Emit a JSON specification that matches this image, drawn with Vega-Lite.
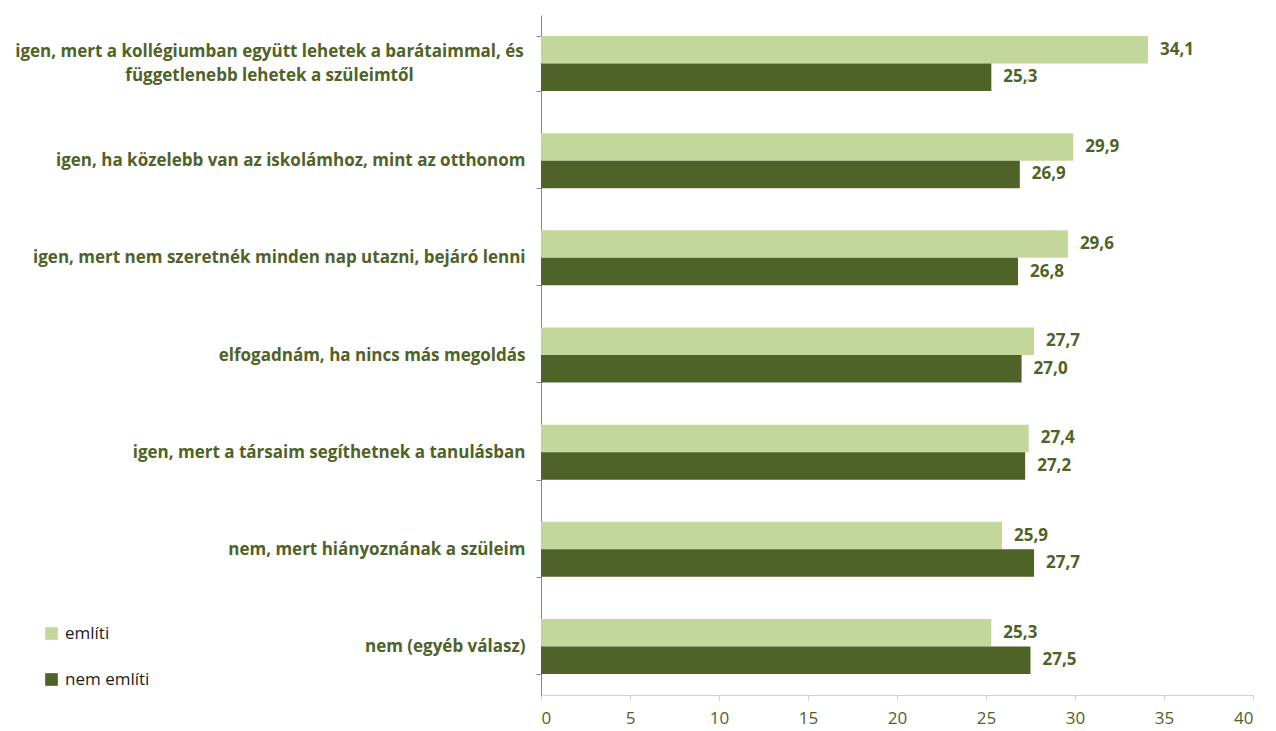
{
  "$schema": "https://vega.github.io/schema/vega-lite/v6.json",
  "width": 712,
  "height": 680,
  "autosize": {"type": "none"},
  "padding": {"left": 541, "top": 15, "right": 23, "bottom": 36},
  "background": "white",
  "config": {
    "view": {"stroke": null},
    "font": "Open Sans",
    "locale": {"number": {"decimal": ",", "thousands": " ", "grouping": [3], "currency": ["", ""]}}
  },
  "data": {
    "values": [
      {"kategoria": "igen, mert a kollégiumban együtt lehetek a barátaimmal, és|függetlenebb lehetek a szüleimtől", "csoport": "említi", "ertek": 34.1},
      {"kategoria": "igen, mert a kollégiumban együtt lehetek a barátaimmal, és|függetlenebb lehetek a szüleimtől", "csoport": "nem említi", "ertek": 25.3},
      {"kategoria": "igen, ha közelebb van az iskolámhoz, mint az otthonom", "csoport": "említi", "ertek": 29.9},
      {"kategoria": "igen, ha közelebb van az iskolámhoz, mint az otthonom", "csoport": "nem említi", "ertek": 26.9},
      {"kategoria": "igen, mert nem szeretnék minden nap utazni, bejáró lenni", "csoport": "említi", "ertek": 29.6},
      {"kategoria": "igen, mert nem szeretnék minden nap utazni, bejáró lenni", "csoport": "nem említi", "ertek": 26.8},
      {"kategoria": "elfogadnám, ha nincs más megoldás", "csoport": "említi", "ertek": 27.7},
      {"kategoria": "elfogadnám, ha nincs más megoldás", "csoport": "nem említi", "ertek": 27.0},
      {"kategoria": "igen, mert a társaim segíthetnek a tanulásban", "csoport": "említi", "ertek": 27.4},
      {"kategoria": "igen, mert a társaim segíthetnek a tanulásban", "csoport": "nem említi", "ertek": 27.2},
      {"kategoria": "nem, mert hiányoznának a szüleim", "csoport": "említi", "ertek": 25.9},
      {"kategoria": "nem, mert hiányoznának a szüleim", "csoport": "nem említi", "ertek": 27.7},
      {"kategoria": "nem (egyéb válasz)", "csoport": "említi", "ertek": 25.3},
      {"kategoria": "nem (egyéb válasz)", "csoport": "nem említi", "ertek": 27.5}
    ]
  },
  "encoding": {
    "y": {
      "field": "kategoria",
      "type": "nominal",
      "sort": null,
      "scale": {"paddingInner": 0.434, "paddingOuter": 0.217},
      "axis": {
        "title": null,
        "labelExpr": "isString(datum.value) ? split(datum.value, '|') : ''",
        "labelFont": "Open Sans",
        "labelFontSize": 17,
        "labelFontWeight": "bold",
        "labelColor": "#4F6228",
        "labelLineHeight": 24,
        "labelLimit": 600,
        "labelAlign": {"condition": {"test": "isString(datum.value) && indexof(datum.value, '|') >= 0", "value": "center"}, "value": "right"},
        "labelPadding": {"condition": {"test": "isString(datum.value) && indexof(datum.value, '|') >= 0", "value": 267}, "value": 11},
        "labelOffset": {"condition": {"test": "isString(datum.value) && indexof(datum.value, '|') >= 0", "value": -12}, "value": 0},
        "tickBand": "extent",
        "tickColor": "#868686",
        "tickSize": 5,
        "domainColor": "#868686",
        "grid": false
      }
    },
    "yOffset": {
      "field": "csoport",
      "type": "nominal",
      "sort": ["említi", "nem említi"],
      "scale": {"paddingInner": 0, "paddingOuter": 0}
    },
    "x": {
      "field": "ertek",
      "type": "quantitative",
      "scale": {"domain": [0, 40], "nice": false},
      "axis": {
        "title": null,
        "values": [0, 5, 10, 15, 20, 25, 30, 35, 40],
        "grid": false,
        "labelFont": "Open Sans",
        "labelFontSize": 17,
        "labelColor": "#4F6228",
        "labelPadding": 10,
        "domainColor": "#A6A6A6",
        "domainDash": [1, 1],
        "tickColor": "#A6A6A6",
        "tickDash": [1, 1],
        "tickSize": 5
      }
    }
  },
  "layer": [
    {
      "mark": {"type": "bar"},
      "encoding": {
        "color": {
          "field": "csoport",
          "type": "nominal",
          "scale": {"domain": ["említi", "nem említi"], "range": ["#C4D79B", "#4F6228"]},
          "legend": {
            "title": null,
            "orient": "none",
            "legendX": -498,
            "legendY": 610,
            "symbolType": "square",
            "symbolSize": 160,
            "symbolStrokeWidth": 0,
            "labelFont": "Open Sans",
            "labelFontSize": 17,
            "labelColor": "#1A1A1A",
            "rowPadding": 28,
            "labelOffset": 5
          }
        }
      }
    },
    {
      "mark": {"type": "text", "align": "left", "baseline": "middle", "dx": 12, "font": "Open Sans", "fontSize": 17, "fontWeight": "bold", "color": "#4F6228"},
      "encoding": {
        "text": {"field": "ertek", "type": "quantitative", "format": ".1f"}
      }
    }
  ]
}
